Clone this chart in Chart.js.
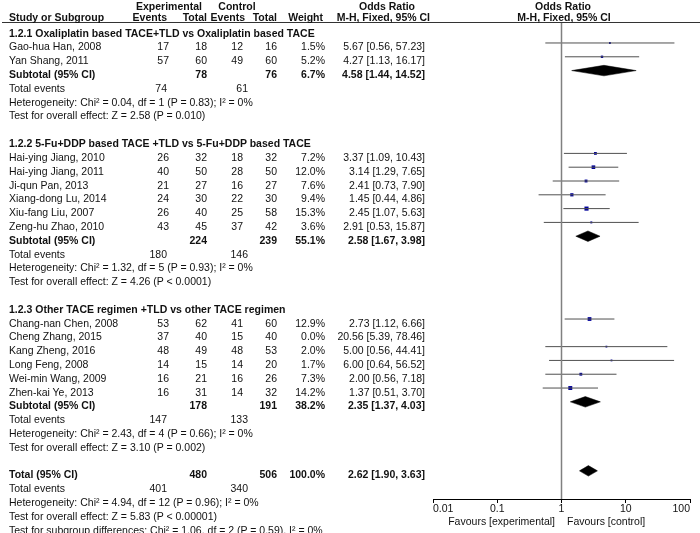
<!DOCTYPE html>
<html><head><meta charset="utf-8">
<script src="https://cdn.jsdelivr.net/npm/chart.js@4/dist/chart.umd.min.js"></script>
<style>
html,body{margin:0;padding:0;background:#fff;}
#wrap{position:relative;width:700px;height:533px;overflow:hidden;background:#fff;}
#c{position:absolute;left:0;top:0;}
.t{position:absolute;font-family:"Liberation Sans",Arial,sans-serif;font-size:10.5px;line-height:14px;height:14px;color:#111;white-space:nowrap;}
.b{font-weight:bold;}
#hline{position:absolute;left:2px;top:22px;width:698px;height:0;border-top:1.5px solid #333;}
</style></head><body>
<div id="wrap"><canvas id="c" width="700" height="533"></canvas><div id="hline"></div></div>
<script>
// ---------- DATA ----------
const groupTitles = [
  "1.2.1 Oxaliplatin based TACE+TLD vs Oxaliplatin based TACE",
  "1.2.2 5-Fu+DDP based TACE +TLD vs 5-Fu+DDP based TACE",
  "1.2.3 Other TACE regimen +TLD vs other TACE regimen"
];
const studies = [
  "Gao-hua Han, 2008","Yan Shang, 2011",
  "Hai-ying Jiang, 2010","Hai-ying Jiang, 2011","Ji-qun Pan, 2013","Xiang-dong Lu, 2014","Xiu-fang Liu, 2007","Zeng-hu Zhao, 2010",
  "Chang-nan Chen, 2008","Cheng Zhang, 2015","Kang Zheng, 2016","Long Feng, 2008","Wei-min Wang, 2009","Zhen-kai Ye, 2013"
];
const studyGroup = [0,0, 1,1,1,1,1,1, 2,2,2,2,2,2];
const expEvents  = [17,57, 26,40,21,24,26,43, 53,37,48,14,16,16];
const expTotal   = [18,60, 32,50,27,30,40,45, 62,40,49,15,21,31];
const ctrlEvents = [12,49, 18,28,16,22,25,37, 41,15,48,14,16,14];
const ctrlTotal  = [16,60, 32,50,27,30,58,42, 60,40,53,20,26,32];
const weights    = [1.5,5.2, 7.2,12.0,7.6,9.4,15.3,3.6, 12.9,0.0,2.0,1.7,7.3,14.2];
const orEst      = [5.67,4.27, 3.37,3.14,2.41,1.45,2.45,2.91, 2.73,20.56,5.00,6.00,2.00,1.37];
const orLow      = [0.56,1.13, 1.09,1.29,0.73,0.44,1.07,0.53, 1.12,5.39,0.56,0.64,0.56,0.51];
const orHigh     = [57.23,16.17, 10.43,7.65,7.90,4.86,5.63,15.87, 6.66,78.46,44.41,56.52,7.18,3.70];

const subExpTotal   = [78,224,178];
const subCtrlTotal  = [76,239,191];
const subWeight     = [6.7,55.1,38.2];
const subOR         = [4.58,2.58,2.35];
const subLow        = [1.44,1.67,1.37];
const subHigh       = [14.52,3.98,4.03];
const subExpEvents  = [74,180,147];
const subCtrlEvents = [61,146,133];
const subHet = [
  "Heterogeneity: Chi\u00B2 = 0.04, df = 1 (P = 0.83); I\u00B2 = 0%",
  "Heterogeneity: Chi\u00B2 = 1.32, df = 5 (P = 0.93); I\u00B2 = 0%",
  "Heterogeneity: Chi\u00B2 = 2.43, df = 4 (P = 0.66); I\u00B2 = 0%"
];
const subTest = [
  "Test for overall effect: Z = 2.58 (P = 0.010)",
  "Test for overall effect: Z = 4.26 (P < 0.0001)",
  "Test for overall effect: Z = 3.10 (P = 0.002)"
];
const totalExpTotal = 480, totalCtrlTotal = 506, totalWeight = 100.0;
const totalOR = 2.62, totalLow = 1.90, totalHigh = 3.63;
const totalExpEvents = 401, totalCtrlEvents = 340;
const totalHet = "Heterogeneity: Chi\u00B2 = 4.94, df = 12 (P = 0.96); I\u00B2 = 0%";
const totalTest = "Test for overall effect: Z = 5.83 (P < 0.00001)";
const subgroupTest = "Test for subgroup differences: Chi\u00B2 = 1.06, df = 2 (P = 0.59), I\u00B2 = 0%";

const tickValues = [0.01, 0.1, 1, 10, 100];
const tickLabels = ["0.01","0.1","1","10","100"];

// ---------- ROW LAYOUT (row indices) ----------
let r = 0;
const studyRows = [], groupRows = [];
groupTitles.forEach((g, gi) => {
  const header = r++;
  studies.forEach((s, i) => { if (studyGroup[i] === gi) studyRows[i] = r++; });
  const sub = r++, te = r++, het = r++, test = r++;
  r++; // blank
  groupRows.push({header, sub, te, het, test});
});
const totalRow = r, totalTERow = r+1, totalHetRow = r+2, totalTestRow = r+3, subgroupRow = r+4;

const yMin = -0.52, yMax = 34.04;
const dH = 0.38; // diamond half-height in row units

// ---------- DATASETS ----------
const datasets = [];
datasets.push({
  type: 'line', data: [{x:1, y:yMin},{x:1, y:yMax}],
  borderColor: '#808080', borderWidth: 1.5, pointRadius: 0, fill: false
});
studies.forEach((s, i) => {
  if (weights[i] <= 0) return;
  datasets.push({
    type: 'line', data: [{x:orLow[i], y:studyRows[i]},{x:orHigh[i], y:studyRows[i]}],
    borderColor: '#505050', borderWidth: 1, pointRadius: 0, fill: false
  });
});
const sqIdx = studies.map((s,i)=>i).filter(i => weights[i] > 0);
datasets.push({
  type: 'scatter',
  data: sqIdx.map(i => ({x: orEst[i], y: studyRows[i]})),
  pointStyle: 'rect',
  pointRadius: sqIdx.map(i => Math.max(1.8, 1.05*Math.sqrt(weights[i])) / Math.SQRT2),
  backgroundColor: '#00009a', borderWidth: 0
});
function addDiamond(lo, est, hi, row) {
  datasets.push({
    type: 'line', data: [{x:lo,y:row},{x:est,y:row+dH},{x:hi,y:row}],
    borderColor: '#000', borderWidth: 0.5, pointRadius: 0, fill: false, tension: 0
  });
  datasets.push({
    type: 'line', data: [{x:lo,y:row},{x:est,y:row-dH},{x:hi,y:row}],
    borderColor: '#000', borderWidth: 0.5, pointRadius: 0, fill: '-1',
    backgroundColor: '#000', tension: 0
  });
}
groupRows.forEach((g, gi) => addDiamond(subLow[gi], subOR[gi], subHigh[gi], g.sub));
addDiamond(totalLow, totalOR, totalHigh, totalRow);

Chart.defaults.font.family = '"Liberation Sans", Arial, sans-serif';
const chart = new Chart(document.getElementById('c'), {
  type: 'line',
  data: { datasets },
  options: {
    responsive: false, animation: false,
    layout: { padding: { left: 433, right: 10, top: 22, bottom: 14 } },
    plugins: { legend: { display: false }, tooltip: { enabled: false } },
    scales: {
      x: {
        type: 'logarithmic', min: 0.01, max: 100,
        afterBuildTicks: s => { s.ticks = tickValues.map(v => ({value: v})); },
        afterFit: s => { s.height = 20; },
        ticks: {
          autoSkip: false, maxRotation: 0, align: 'inner', padding: 0,
          color: '#111', font: { size: 10.5 },
          callback: (v) => { const k = tickValues.indexOf(v); return k >= 0 ? tickLabels[k] : ''; }
        },
        grid: { drawOnChartArea: false, drawTicks: true, tickLength: 4, color: '#000' },
        border: { display: true, color: '#000', width: 1 }
      },
      y: { type: 'linear', reverse: true, min: yMin, max: yMax, display: false }
    }
  }
});

// ---------- TEXT ----------
const wrap = document.getElementById('wrap');
function put(text, x, yc, align, bold) {
  const d = document.createElement('div');
  d.className = 't' + (bold ? ' b' : '');
  d.textContent = text;
  d.style.top = (yc - 7) + 'px';
  if (align === 'left') d.style.left = x + 'px';
  else if (align === 'right') d.style.right = (700 - x) + 'px';
  else { d.style.left = (x - 150) + 'px'; d.style.width = '300px'; d.style.textAlign = 'center'; }
  wrap.appendChild(d);
}
const yPix = row => chart.scales.y.getPixelForValue(row) + 3.5;
const fmt2 = v => v.toFixed(2);
const orText = (e, l, h) => fmt2(e) + " [" + fmt2(l) + ", " + fmt2(h) + "]";

const X = { name: 9, expEv: 169, expTot: 207, ctlEv: 243, ctlTot: 277, wt: 325, or: 425, teExp: 167, teCtl: 248 };

// header
put("Experimental", 169, 5.5, 'center', true);
put("Control", 237, 5.5, 'center', true);
put("Odds Ratio", 387, 5.5, 'center', true);
put("Odds Ratio", 563, 5.5, 'center', true);
put("Study or Subgroup", X.name, 17, 'left', true);
put("Events", 167, 17, 'right', true);
put("Total", 207, 17, 'right', true);
put("Events", 245, 17, 'right', true);
put("Total", 277, 17, 'right', true);
put("Weight", 323, 17, 'right', true);
put("M-H, Fixed, 95% CI", 430, 17, 'right', true);
put("M-H, Fixed, 95% CI", 564, 17, 'center', true);

groupRows.forEach((g, gi) => {
  put(groupTitles[gi], X.name, yPix(g.header), 'left', true);
  studies.forEach((s, i) => {
    if (studyGroup[i] !== gi) return;
    const y = yPix(studyRows[i]);
    put(s, X.name, y, 'left');
    put(String(expEvents[i]), X.expEv, y, 'right');
    put(String(expTotal[i]), X.expTot, y, 'right');
    put(String(ctrlEvents[i]), X.ctlEv, y, 'right');
    put(String(ctrlTotal[i]), X.ctlTot, y, 'right');
    put(weights[i].toFixed(1) + "%", X.wt, y, 'right');
    put(orText(orEst[i], orLow[i], orHigh[i]), X.or, y, 'right');
  });
  let y = yPix(g.sub);
  put("Subtotal (95% CI)", X.name, y, 'left', true);
  put(String(subExpTotal[gi]), X.expTot, y, 'right', true);
  put(String(subCtrlTotal[gi]), X.ctlTot, y, 'right', true);
  put(subWeight[gi].toFixed(1) + "%", X.wt, y, 'right', true);
  put(orText(subOR[gi], subLow[gi], subHigh[gi]), X.or, y, 'right', true);
  y = yPix(g.te);
  put("Total events", X.name, y, 'left');
  put(String(subExpEvents[gi]), X.teExp, y, 'right');
  put(String(subCtrlEvents[gi]), X.teCtl, y, 'right');
  put(subHet[gi], X.name, yPix(g.het), 'left');
  put(subTest[gi], X.name, yPix(g.test), 'left');
});
let yt = yPix(totalRow);
put("Total (95% CI)", X.name, yt, 'left', true);
put(String(totalExpTotal), X.expTot, yt, 'right', true);
put(String(totalCtrlTotal), X.ctlTot, yt, 'right', true);
put(totalWeight.toFixed(1) + "%", X.wt, yt, 'right', true);
put(orText(totalOR, totalLow, totalHigh), X.or, yt, 'right', true);
yt = yPix(totalTERow);
put("Total events", X.name, yt, 'left');
put(String(totalExpEvents), X.teExp, yt, 'right');
put(String(totalCtrlEvents), X.teCtl, yt, 'right');
put(totalHet, X.name, yPix(totalHetRow), 'left');
put(totalTest, X.name, yPix(totalTestRow), 'left');
put(subgroupTest, X.name, yPix(subgroupRow), 'left');

put("Favours [experimental]", 555, 521, 'right');
put("Favours [control]", 567, 521, 'left');
</script>
</body></html>
